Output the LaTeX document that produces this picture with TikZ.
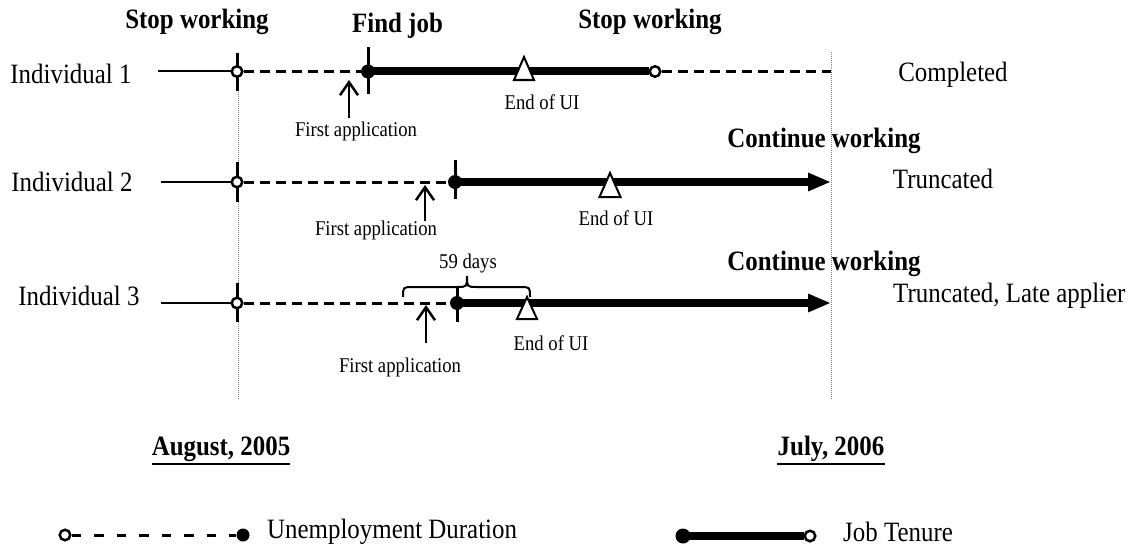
\documentclass[tikz,border=0pt]{standalone}
\usepackage{fontspec}
\setmainfont{Liberation Serif}[FakeStretch=0.89]
\usetikzlibrary{arrows.meta}
\pgfdeclarelayer{bg}
\pgfsetlayers{bg,main}
\begin{document}
\begin{tikzpicture}[x=1pt,y=-1pt,
  big/.style={font=\fontsize{28}{30}\selectfont, inner sep=0pt},
  bigb/.style={font=\fontsize{28}{30}\selectfont\bfseries, inner sep=0pt},
  small/.style={font=\fontsize{21}{23}\selectfont, inner sep=0pt},
  opendot/.style={circle, draw, fill=white, line width=2.5pt, inner sep=0pt, minimum size=10.5pt},
  filldot/.style={circle, fill=black, inner sep=0pt, minimum size=14pt},
  thinline/.style={line width=2pt},
  ticks/.style={line width=3pt},
  unemp/.style={line width=3pt, dash pattern=on 10pt off 6pt},
  legdash/.style={line width=3pt, dash pattern=on 9.5pt off 13pt},
  tenure/.style={line width=8pt},
  guide/.style={line width=1pt, gray, dash pattern=on 1pt off 1pt},
  apparrow/.style={line width=2.5pt, -{Straight Barb[length=13pt,width=18pt]}},
  uimark/.style={line width=2pt, fill=white},
  bigtip/.style={-{Triangle[length=23pt,width=17pt]}},
]
\useasboundingbox (0,0) rectangle (1135,551);

% labels
\node[big] (ind1) at (71,74) {Individual 1};
\node[big] (ind2) at (72,182) {Individual 2};
\node[big] (ind3) at (79,296) {Individual 3};
\node[bigb] (stop1) at (197,21.5) {Stop working};
\node[bigb] (find) at (397.5,26) {Find job};
\node[bigb] (stop2) at (650,21.5) {Stop working};
\node[bigb] (cont2) at (824,141) {Continue working};
\node[bigb] (cont3) at (824,264) {Continue working};
\node[big] (compl) at (953,75) {Completed};
\node[big] (trunc2) at (943,179) {Truncated};
\node[big, anchor=west] (trunc3) at (893,296) {Truncated, Late applier};

\node[small] (fa1) at (356,131) {First application};
\node[small] (fa2) at (376,230) {First application};
\node[small] (fa3) at (400,367) {First application};
\node[small] (ui1) at (542,102.5) {End of UI};
\node[small] (ui2) at (616,218) {End of UI};
\node[small] (ui3) at (551,343.5) {End of UI};
\node[small] (days) at (468,263) {59 days};

\node[bigb] (aug) at (221,449) {August, 2005};
\node[bigb] (jul) at (831,449) {July, 2006};
\draw[line width=2pt] ([yshift=-2pt]aug.south west) -- ([yshift=-2pt]aug.south east);
\draw[line width=2pt] ([yshift=-2pt]jul.south west) -- ([yshift=-2pt]jul.south east);

% legend
\node[opendot] (lo) at (65,535) {};
\node[filldot, minimum size=13pt] (ld) at (243,535) {};
\node[big, anchor=west] (lu) at (267,532) {Unemployment Duration};
\node[filldot, minimum size=15pt] (jd) at (683,536) {};
\node[opendot] (jo) at (810,536) {};
\node[big, anchor=west] (lj) at (843,532) {Job Tenure};

% timeline markers
\coordinate (s1) at (158,71.5);
\node[opendot] (o1) at (237,71.5) {};
\node[filldot] (f1) at (368,71.5) {};
\node[opendot] (e1) at (655,71.5) {};
\coordinate (r1) at (831,71.5);

\coordinate (s2) at (161,182);
\node[opendot] (o2) at (237,182) {};
\node[filldot] (f2) at (455,182) {};
\coordinate (r2) at (831,182);

\coordinate (s3) at (161,303);
\node[opendot] (o3) at (237,303) {};
\node[filldot] (f3) at (457,303) {};
\coordinate (r3) at (831,303);

\coordinate (p1) at (349,118);
\coordinate (p2) at (425,221);
\coordinate (p3) at (426,343);

\begin{pgfonlayer}{bg}
  \fill[white] (0,0) rectangle (1135,551);
  \draw[guide] (238,78) -- (238,399);
  \draw[guide] (831,52) -- (831,399);
  \draw[ticks] (o1.center) ++(0,-18.5) -- ++(0,38);
  \draw[ticks] (f1.center) ++(0,-24.5) -- ++(0,47);
  \draw[ticks] (o2.center) ++(0,-20) -- ++(0,40);
  \draw[ticks] (f2.center) ++(0,-22) -- ++(0,39);
  \draw[ticks] (o3.center) ++(0,-20) -- ++(0,39);
  \draw[ticks] (f3.center) ++(0,-16) -- ++(0,35);

  \draw[thinline] (s1) -- (o1);
  \draw[unemp] (o1) -- (f1);
  \draw[tenure] (f1.center) -- (e1);
  \draw[unemp] (e1) -- (r1);

  \draw[thinline] (s2) -- (o2);
  \draw[unemp] (o2) -- (f2);
  \draw[tenure, bigtip] (f2.center) -- (r2);

  \draw[thinline] (s3) -- (o3);
  \draw[unemp] (o3) -- (f3);
  \draw[tenure, bigtip] (f3.center) -- (r3);

  \draw[legdash] (lo) -- (ld);
  \draw[tenure] (jd.center) -- (jo);
\end{pgfonlayer}

% UI markers
\draw[uimark] (524,57) -- (514,80) -- (534,80) -- cycle;
\draw[uimark] (610,173) -- (599.5,197) -- (620.5,197) -- cycle;
\draw[uimark] (527,297) -- (517,319) -- (537,319) -- cycle;

% application arrows
\draw[apparrow] (p1) -- ++(0,-38);
\draw[apparrow] (p2) -- ++(0,-36);
\draw[apparrow] (p3) -- ++(0,-38);

% brace
\draw[line width=2pt] (403,297) .. controls (403,287) .. (413,287) -- (457,287)
  .. controls (467,287) .. (467,276) .. controls (467,287) .. (477,287) -- (520,287)
  .. controls (530,287) .. (530,297);
\end{tikzpicture}
\end{document}
